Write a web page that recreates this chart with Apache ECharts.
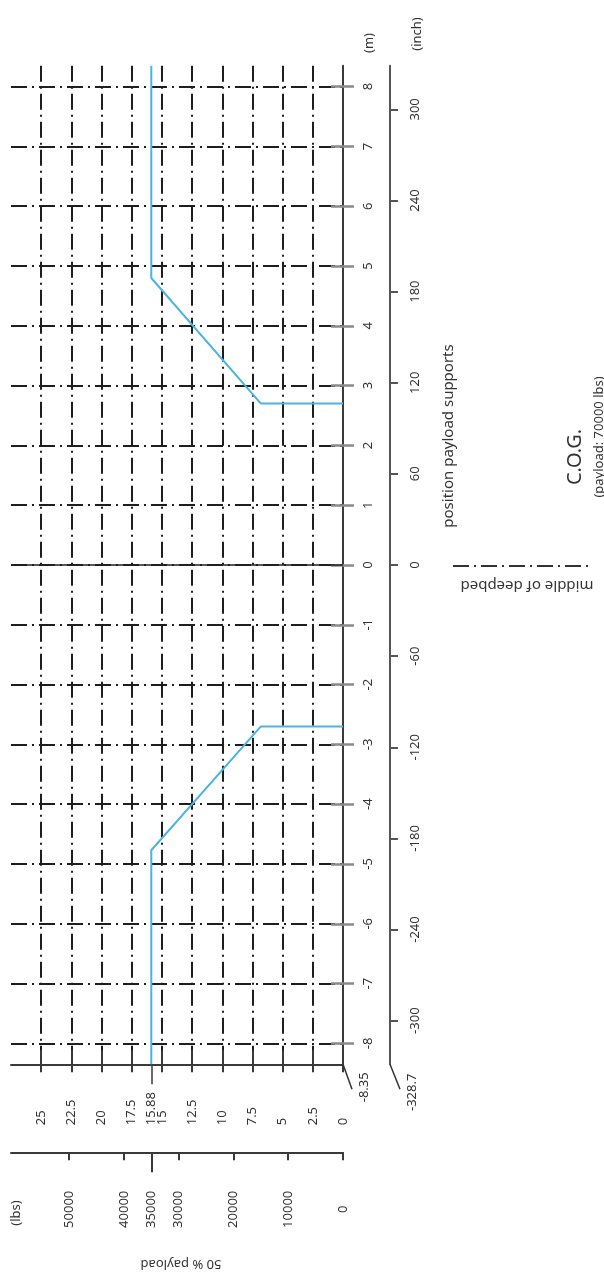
<!DOCTYPE html>
<html>
<head>
<meta charset="utf-8">
<script src="https://cdn.jsdelivr.net/npm/echarts@6/dist/echarts.min.js"></script>
<style>
html,body{margin:0;padding:0;background:#fff;}
#c{width:604px;height:1280px;}
</style>
</head>
<body>
<div id="c"></div>
<script>
// ---------- data ----------
const mTicks = [-8,-7,-6,-5,-4,-3,-2,-1,0,1,2,3,4,5,6,7,8];
const inchTicks = [-300,-240,-180,-120,-60,0,60,120,180,240,300];
const loadTicks = [0,2.5,5,7.5,10,12.5,15,17.5,20,22.5,25];
const lbsTicks = [0,10000,20000,30000,40000,50000];
const cogLoad = 15.88;          // t  (= 35000 lbs)
const cogLbs = 35000;
const mMin = -8.35, mMax = 8.35;
const mEndLabel = '-8.35';
const inchEndLabel = '-328.7';
const loadMax = 27.5;
// payload support curves: [position m, load t]
const rightSupport = [[8.35,15.88],[4.8,15.88],[2.7,6.8],[2.7,0]];
const leftSupport  = [[-8.35,15.88],[-4.77,15.88],[-2.7,6.8],[-2.7,0]];

// ---------- styles ----------
const FONT = '"Noto Sans", "DejaVu Sans", sans-serif';
const TXT = '#333';
const gridLine = {color:'#1e1e1e', width:2, type:[16,5,2,5]};
const M_TO_IN = 39.3701, T_TO_LBS = 2204.62;

const chart = echarts.init(document.getElementById('c'));
const hidden = {axisLine:{show:false, onZero:false}, axisTick:{show:false}, axisLabel:{show:false}, splitLine:{show:false}};
const loadScale = {type:'value', inverse:true, min:0, max:loadMax, interval:2.5, gridIndex:0, position:'bottom'};
const mScale = {type:'value', min:mMin, max:mMax, gridIndex:0, position:'right'};
const plain = v => String(v);

const option = {
  animation:false,
  backgroundColor:'#fff',
  grid:{left:11, right:261, top:65.7, bottom:215.7, containLabel:false, outerBoundsMode:'none'},
  xAxis:[
    // 0: vertical grid lines
    Object.assign({}, loadScale, hidden, {splitLine:{show:true, showMinLine:false, showMaxLine:false, lineStyle:gridLine}}),
    // 1: load axis (t)
    Object.assign({}, loadScale, {
      axisLine:{show:true, onZero:false, lineStyle:{color:'#3a3a3a', width:2}},
      axisTick:{show:true, length:8, customValues:loadTicks, lineStyle:{color:'#3a3a3a', width:2}},
      axisLabel:{show:true, customValues:loadTicks.concat([cogLoad]), rotate:90, align:'left', margin:61,
                 fontSize:13, color:TXT, fontFamily:FONT, hideOverlap:false, formatter:plain},
      splitLine:{show:false}
    }),
    // 2: inner part of crossing ticks
    Object.assign({}, loadScale, hidden, {axisTick:{show:true, inside:true, length:14, customValues:loadTicks, lineStyle:{color:'#3a3a3a', width:2}}}),
    // 3: C.O.G. leader tick
    Object.assign({}, loadScale, hidden, {axisTick:{show:true, length:20, customValues:[cogLoad], lineStyle:{color:'#3a3a3a', width:1.5}}}),
    // 4: lbs axis
    {type:'value', inverse:true, min:0, max:loadMax*T_TO_LBS, gridIndex:0, position:'bottom', offset:88,
      axisLine:{show:true, onZero:false, lineStyle:{color:'#3a3a3a', width:2}},
      axisTick:{show:true, length:8, customValues:lbsTicks, lineStyle:{color:'#3a3a3a', width:2}},
      axisLabel:{show:true, customValues:lbsTicks.concat([cogLbs]), rotate:90, align:'center', margin:57,
                 fontSize:13, color:TXT, fontFamily:FONT, hideOverlap:false, formatter:plain},
      splitLine:{show:false}},
    // 5: long tick at 35000 lbs
    {type:'value', inverse:true, min:0, max:loadMax*T_TO_LBS, gridIndex:0, position:'bottom', offset:88,
      axisLine:{show:false, onZero:false}, axisLabel:{show:false}, splitLine:{show:false},
      axisTick:{show:true, length:20, customValues:[cogLbs], lineStyle:{color:'#3a3a3a', width:2}}}
  ],
  yAxis:[
    // 0: horizontal grid lines
    Object.assign({}, mScale, hidden, {axisTick:{show:false, customValues:mTicks}, splitLine:{show:true, lineStyle:gridLine}}),
    // 1: metre axis
    Object.assign({}, mScale, {
      axisLine:{show:true, onZero:false, lineStyle:{color:'#3a3a3a', width:2}},
      axisTick:{show:true, length:11, customValues:mTicks, lineStyle:{color:'#8a8a8a', width:2.5}},
      axisLabel:{show:true, customValues:mTicks, rotate:90, margin:19, fontSize:13, color:TXT, fontFamily:FONT, hideOverlap:false, formatter:plain},
      splitLine:{show:false}
    }),
    // 2: inner part of crossing ticks
    Object.assign({}, mScale, hidden, {axisTick:{show:true, inside:true, length:12, customValues:mTicks, lineStyle:{color:'#8a8a8a', width:2.5}}}),
    // 3: inch axis
    {type:'value', min:mMin*M_TO_IN, max:mMax*M_TO_IN, gridIndex:0, position:'right', offset:47,
      axisLine:{show:true, onZero:false, lineStyle:{color:'#555', width:2}},
      axisTick:{show:true, length:8, customValues:inchTicks, lineStyle:{color:'#555', width:2}},
      axisLabel:{show:true, customValues:inchTicks, rotate:90, margin:19, fontSize:13, color:TXT, fontFamily:FONT, hideOverlap:false, formatter:plain},
      splitLine:{show:false}}
  ],
  series:[
    {type:'line', name:'right supports', xAxisIndex:1, yAxisIndex:1, symbol:'none', z:5,
     data: rightSupport.map(p => [p[1], p[0]]),
     lineStyle:{color:'#4db3e4', width:2}},
    {type:'line', name:'left supports', xAxisIndex:1, yAxisIndex:1, symbol:'none', z:5,
     data: leftSupport.map(p => [p[1], p[0]]),
     lineStyle:{color:'#4db3e4', width:2},
     markLine:{silent:true, symbol:'none', label:{show:false},
       lineStyle:{color:'#222', width:1.5, type:'solid'},
       data:[{yAxis:0}]}}
  ]
};
chart.setOption(option);

// annotations
const end = chart.convertToPixel({seriesIndex:0}, [0, mMin]);
const inchX = end[0] + 47;
const txt = (text, x, y, rot, size) => ({type:'text', x:x, y:y, rotation:rot, z:20,
  style:{text:text, x:0, y:0, align:'center', verticalAlign:'middle', fill:TXT, font: size + 'px ' + FONT}});
const ln = (x1,y1,x2,y2,dash,w) => ({type:'line', z:20, shape:{x1:x1,y1:y1,x2:x2,y2:y2},
  style:{stroke:'#333', lineWidth:w||1.5, lineDash:dash||null}});
const R = Math.PI/2;
chart.setOption({graphic:[
  ln(end[0], end[1], end[0]+9, end[1]+25),
  txt(mEndLabel, end[0]+21, end[1]+23, R, 13),
  ln(inchX, end[1], inchX+10, end[1]+25),
  txt(inchEndLabel, inchX+22, end[1]+28, R, 13),
  txt('(m)', 369, 43, R, 13),
  txt('(inch)', 417, 34, R, 13),
  txt('(lbs)', 16, 1213, R, 13),
  txt('50 % payload', 181, 1264, Math.PI, 13),
  txt('position payload supports', 449, 436, R, 15),
  txt('C.O.G.', 575, 457, R, 20),
  txt('(payload: 70000 lbs)', 599, 437, R, 13),
  ln(453, 566, 590, 566, [16,5,2,5], 2),
  txt('middle of deepbed', 527, 585, Math.PI, 15)
]});
</script>
</body>
</html>
